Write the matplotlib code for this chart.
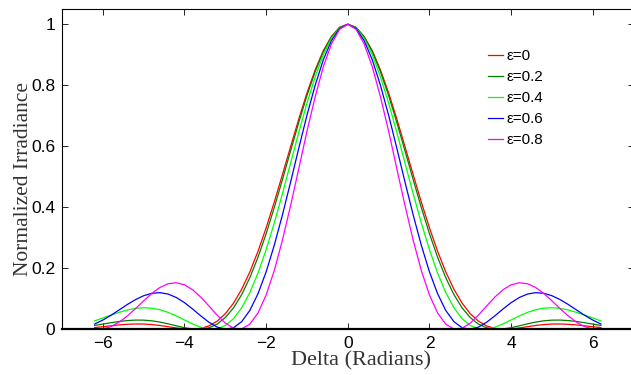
import matplotlib.pyplot as plt

# Delta (radians)
delta = [-6.2, -6.0, -5.8, -5.6, -5.4, -5.2, -5.0, -4.8, -4.6, -4.4, -4.2,
         -4.0, -3.8, -3.6, -3.4, -3.2, -3.0, -2.8, -2.6, -2.4, -2.2, -2.0,
         -1.8, -1.6, -1.4, -1.2, -1.0, -0.8, -0.6, -0.4, -0.2, 0.0,
         0.2, 0.4, 0.6, 0.8, 1.0, 1.2, 1.4, 1.6, 1.8, 2.0, 2.2,
         2.4, 2.6, 2.8, 3.0, 3.2, 3.4, 3.6, 3.8, 4.0, 4.2, 4.4,
         4.6, 4.8, 5.0, 5.2, 5.4, 5.6, 5.8, 6.0, 6.2]

# normalized irradiance for each obscuration ratio
irr_e00 = [0.0056, 0.0085, 0.0115, 0.0143, 0.0164, 0.0174, 0.0172, 0.0155, 0.0125, 0.0085, 0.0044,
           0.0011, 0.0000, 0.0028, 0.0111, 0.0267, 0.0511, 0.0856, 0.1312, 0.1879, 0.2555, 0.3326,
           0.4174, 0.5075, 0.5992, 0.6897, 0.7748, 0.8501, 0.9134, 0.9600, 0.9900, 1.0,
           0.9900, 0.9600, 0.9134, 0.8501, 0.7748, 0.6897, 0.5992, 0.5075, 0.4174, 0.3326, 0.2555,
           0.1879, 0.1312, 0.0856, 0.0511, 0.0267, 0.0111, 0.0028, 0.0000, 0.0011, 0.0044, 0.0085,
           0.0125, 0.0155, 0.0172, 0.0174, 0.0164, 0.0143, 0.0115, 0.0085, 0.0056]

irr_e02 = [0.0126, 0.0171, 0.0215, 0.0256, 0.0286, 0.0302, 0.0300, 0.0278, 0.0236, 0.0179, 0.0114,
           0.0053, 0.0010, 0.0003, 0.0050, 0.0170, 0.0383, 0.0701, 0.1136, 0.1690, 0.2361, 0.3135,
           0.3995, 0.4913, 0.5854, 0.6785, 0.7664, 0.8444, 0.9100, 0.9588, 0.9896, 1.0,
           0.9896, 0.9588, 0.9100, 0.8444, 0.7664, 0.6785, 0.5854, 0.4913, 0.3995, 0.3135, 0.2361,
           0.1690, 0.1136, 0.0701, 0.0383, 0.0170, 0.0050, 0.0003, 0.0010, 0.0053, 0.0114, 0.0179,
           0.0236, 0.0278, 0.0300, 0.0302, 0.0286, 0.0256, 0.0215, 0.0171, 0.0126]

irr_e04 = [0.0277, 0.0370, 0.0465, 0.0556, 0.0632, 0.0685, 0.0707, 0.0693, 0.0642, 0.0554, 0.0438,
           0.0306, 0.0176, 0.0067, 0.0006, 0.0016, 0.0123, 0.0347, 0.0704, 0.1202, 0.1841, 0.2611,
           0.3490, 0.4452, 0.5453, 0.6459, 0.7416, 0.8273, 0.8999, 0.9541, 0.9884, 1.0,
           0.9884, 0.9541, 0.8999, 0.8273, 0.7416, 0.6459, 0.5453, 0.4452, 0.3490, 0.2611, 0.1841,
           0.1202, 0.0704, 0.0347, 0.0123, 0.0016, 0.0006, 0.0067, 0.0176, 0.0306, 0.0438, 0.0554,
           0.0642, 0.0693, 0.0707, 0.0685, 0.0632, 0.0556, 0.0465, 0.0370, 0.0277]

irr_e06 = [0.0172, 0.0303, 0.0460, 0.0636, 0.0813, 0.0973, 0.1101, 0.1181, 0.1201, 0.1155, 0.1042,
           0.0873, 0.0664, 0.0439, 0.0231, 0.0072, 0.0001, 0.0051, 0.0250, 0.0617, 0.1165, 0.1883,
           0.2759, 0.3756, 0.4831, 0.5941, 0.7018, 0.7996, 0.8834, 0.9463, 0.9864, 1.0,
           0.9864, 0.9463, 0.8834, 0.7996, 0.7018, 0.5941, 0.4831, 0.3756, 0.2759, 0.1883, 0.1165,
           0.0617, 0.0250, 0.0051, 0.0001, 0.0072, 0.0231, 0.0439, 0.0664, 0.0873, 0.1042, 0.1155,
           0.1201, 0.1181, 0.1101, 0.0973, 0.0813, 0.0636, 0.0460, 0.0303, 0.0172]

irr_e08 = [0.0005, 0.0012, 0.0089, 0.0235, 0.0437, 0.0676, 0.0932, 0.1177, 0.1372, 0.1495, 0.1525,
           0.1459, 0.1296, 0.1053, 0.0763, 0.0465, 0.0203, 0.0037, 0.0010, 0.0167, 0.0535, 0.1125,
           0.1929, 0.2929, 0.4063, 0.5268, 0.6495, 0.7617, 0.8608, 0.9355, 0.9837, 1.0,
           0.9837, 0.9355, 0.8608, 0.7617, 0.6495, 0.5268, 0.4063, 0.2929, 0.1929, 0.1125, 0.0535,
           0.0167, 0.0010, 0.0037, 0.0203, 0.0465, 0.0763, 0.1053, 0.1296, 0.1459, 0.1525, 0.1495,
           0.1372, 0.1177, 0.0932, 0.0676, 0.0437, 0.0235, 0.0089, 0.0012, 0.0005]

labels = ['\u03b5=0', '\u03b5=0.2', '\u03b5=0.4', '\u03b5=0.6', '\u03b5=0.8']
series = [irr_e00, irr_e02, irr_e04, irr_e06, irr_e08]
colors = ['#ff0000', '#008000', '#00ff00', '#0000ff', '#ff00ff']

xticks = [-6, -4, -2, 0, 2, 4, 6]
yticks = [0, 0.2, 0.4, 0.6, 0.8, 1]
ytick_labels = ['0', '0.2', '0.4', '0.6', '0.8', '1']

fig = plt.figure(figsize=(6.31, 3.75), dpi=100)
ax = fig.add_axes([62 / 631, 45.7 / 375, 571.6 / 631, 320.3 / 375])

for ys, c, lab in zip(series, colors, labels):
    ax.plot(delta, ys, color=c, lw=0.9, label=lab)

ax.set_xlim(-7, 7)
ax.set_ylim(0, 1.05)
ax.set_xticks(xticks)
ax.set_xticklabels(['\u2212' + str(-t) if t < 0 else str(t) for t in xticks])
ax.set_yticks(yticks)
ax.set_yticklabels(ytick_labels)
ax.tick_params(direction='in', length=4, width=0.6, top=True, right=True,
               labelsize=12.5, pad=5)
for lbl in ax.get_xticklabels() + ax.get_yticklabels():
    lbl.set_family('Liberation Sans')

for side in ['top', 'left', 'right']:
    ax.spines[side].set_linewidth(0.8)
ax.spines['bottom'].set_linewidth(1.6)

ax.set_xlabel('Delta (Radians)', family='Liberation Serif', fontsize=16, color='#333333')
ax.set_ylabel('Normalized Irradiance', family='Liberation Serif', fontsize=15.5, color='#333333')
ax.xaxis.set_label_coords(0.523, -0.098)
ax.yaxis.set_label_coords(-0.068, 0.469)
ax.xaxis.label.set_va('center')
ax.yaxis.label.set_va('center')

leg = ax.legend(loc='upper left', bbox_to_anchor=(0.745, 0.874), frameon=False,
                prop={'family': 'Liberation Sans', 'size': 11},
                handlelength=1.0, handletextpad=0.25, labelspacing=0.45,
                borderpad=0, borderaxespad=0)

fig.savefig('out.png', dpi=100)
